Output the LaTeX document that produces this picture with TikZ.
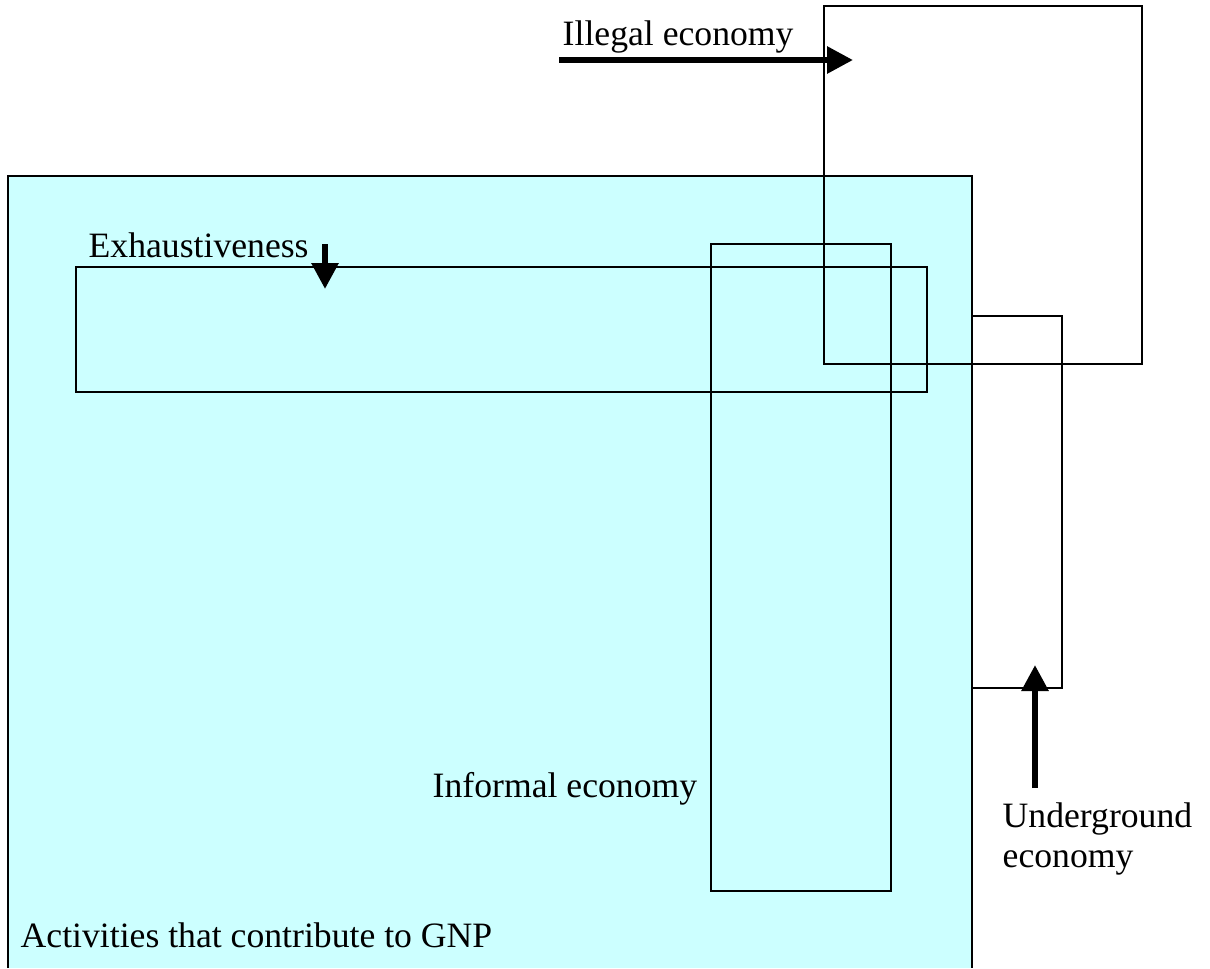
\documentclass[tikz,border=0pt]{standalone}
\usepackage{fontspec}
\setmainfont{Liberation Serif}
\usetikzlibrary{arrows.meta}
\definecolor{gnpcyan}{RGB}{204,255,255}

\begin{document}
\begin{tikzpicture}[x=0.02cm,y=-0.02cm,line width=0.8pt,
    lbl/.style={inner sep=0pt,anchor=base west,font=\fontsize{20.3}{22.5}\selectfont},
    bigarrow/.style={line width=3.4pt,-{Triangle[width=0.52cm,length=0.52cm]}}]
        \useasboundingbox (0,0) rectangle (1210,968);
        % activities that contribute to GNP
        \fill[gnpcyan] (8,176) rectangle (972,968);
        \draw (8,968)--(8,176)--(972,176)--(972,968);
        % the other boxes
        \draw (76,267) rectangle (927,392);
        \draw (711,244) rectangle (891,891);
        \draw (824,6) rectangle (1142,364);
        \draw (972,316) rectangle (1062,688);
        % labels
        \node[lbl] (illegal) at (562,45) {Illegal economy};
        \node[lbl] (exhaust) at (88,257) {Exhaustiveness};
        \node[lbl] (informal) at (432,797) {Informal economy};
        \node[lbl] (gnp) at (20,947) {Activities that contribute to GNP};
        \node[lbl,anchor=north west,align=left] (undergr) at (1002,802) {Underground\\economy};
        % arrows
        \coordinate (illegal-a) at (559,60);
        \coordinate (illegal-b) at (853,60);
        \coordinate (exhaust-a) at (325,244);
        \coordinate (exhaust-b) at (325,289);
        \coordinate (undergr-a) at (1035,788);
        \coordinate (undergr-b) at (1035,665);
        \draw[bigarrow] (illegal-a)--(illegal-b);
        \draw[bigarrow] (exhaust-a)--(exhaust-b);
        \draw[bigarrow] (undergr-a)--(undergr-b);
      \end{tikzpicture}
\end{document}
